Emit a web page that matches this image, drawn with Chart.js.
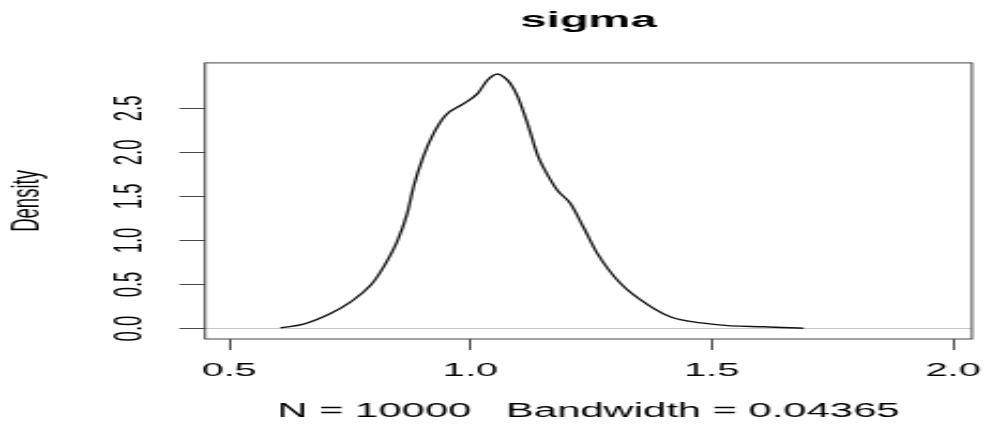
<!DOCTYPE html>
<html>
<head>
<meta charset="utf-8">
<title>sigma</title>
<script src="https://cdn.jsdelivr.net/npm/chart.js@4.4.1/dist/chart.umd.min.js"></script>
<style>
  html, body { margin: 0; padding: 0; background: #fff; overflow: hidden; }
  /* plot is drawn narrow and stretched sideways, like the original device output */
  #wrap { width: 460px; height: 428px; transform: scaleX(2.1413); transform-origin: 0 0; }
</style>
</head>
<body>
<div id="wrap"><canvas id="density" width="460" height="428"></canvas></div>
<script>
// kernel density estimate of sigma
const SIGMA_X = [0.606, 0.654, 0.710, 0.751, 0.793, 0.820, 0.849, 0.869, 0.882, 0.902,
                 0.923, 0.948, 0.985, 1.015, 1.035, 1.056, 1.068, 1.083, 1.098, 1.118,
                 1.139, 1.151, 1.180, 1.207, 1.234, 1.263, 1.311, 1.367, 1.415, 1.483,
                 1.539, 1.608, 1.690];
const DENSITY = [0.008, 0.05, 0.17, 0.30, 0.49, 0.70, 1.00, 1.31, 1.61, 1.95,
                 2.21, 2.42, 2.55, 2.67, 2.82, 2.89, 2.86, 2.78, 2.63, 2.33,
                 1.97, 1.83, 1.57, 1.42, 1.15, 0.85, 0.51, 0.27, 0.13, 0.06,
                 0.03, 0.02, 0.003];

const X_TICKS = [0.5, 1.0, 1.5, 2.0];
const Y_TICKS = [0.0, 0.5, 1.0, 1.5, 2.0, 2.5];
const X_LIMITS = [0.450, 2.039];
const Y_LIMITS = [-0.119, 3.016];

const MAIN = 'sigma';
const SUB = 'N = 10000   Bandwidth = 0.04365';
const YLAB = 'Density';

const FONT = "'Liberation Sans', Arial, sans-serif";

// frame around the plot region
const plotBox = {
  id: 'plotBox',
  afterDatasetsDraw(chart) {
    const {ctx, chartArea: a} = chart;
    ctx.save();
    ctx.strokeStyle = '#444';
    ctx.lineWidth = 1;
    ctx.strokeRect(a.left, a.top, a.right - a.left, a.bottom - a.top);
    ctx.restore();
  }
};

const points = SIGMA_X.map((x, i) => ({x: x, y: DENSITY[i]}));

new Chart(document.getElementById('density'), {
  type: 'line',
  data: {
    datasets: [{
      data: points,
      borderColor: '#111',
      borderWidth: 1.3,
      pointRadius: 0,
      fill: false,
      cubicInterpolationMode: 'monotone'
    }]
  },
  options: {
    responsive: false,
    animation: false,
    devicePixelRatio: 1,
    layout: { autoPadding: false, padding: { left: 0, right: 6.1, top: 0, bottom: 0 } },
    plugins: {
      legend: { display: false },
      tooltip: { enabled: false },
      title: {
        display: true,
        text: MAIN,
        fullSize: false,
        color: '#000',
        font: { family: FONT, size: 22, weight: 'bold' },
        padding: { top: 7.5, bottom: 29 }
      }
    },
    scales: {
      x: {
        type: 'linear',
        min: X_LIMITS[0],
        max: X_LIMITS[1],
        afterBuildTicks: s => { s.ticks = X_TICKS.map(v => ({value: v})); },
        afterFit: s => {
          s.height = 89;
          s.paddingLeft = 0;
          s.paddingRight = 0;
        },
        border: { display: false },
        grid: { drawOnChartArea: false, drawTicks: true, tickLength: 11, tickColor: '#444', lineWidth: 1 },
        ticks: {
          color: '#000',
          padding: 10,
          maxRotation: 0,
          font: { family: FONT, size: 18.5 },
          callback: v => Number(v).toFixed(1)
        },
        title: {
          display: true,
          text: SUB,
          color: '#000',
          font: { family: FONT, size: 19.5 },
          padding: { top: 0, bottom: 4.2 }
        }
      },
      y: {
        type: 'linear',
        min: Y_LIMITS[0],
        max: Y_LIMITS[1],
        afterBuildTicks: s => { s.ticks = Y_TICKS.map(v => ({value: v})); },
        afterFit: s => {
          s.width = 95.74;
          s.paddingTop = 0;
          s.paddingBottom = 0;
        },
        border: { display: false },
        grid: {
          drawOnChartArea: true,
          drawTicks: true,
          tickLength: 12,
          tickColor: '#444',
          lineWidth: 1,
          // only the zero line shows inside the plot
          color: c => (c.tick && c.tick.value === 0 ? '#c8c8c8' : 'rgba(0,0,0,0)')
        },
        ticks: {
          color: '#000',
          padding: 10,
          minRotation: 90,
          maxRotation: 90,
          crossAlign: 'center',
          font: { family: FONT, size: 18.5 },
          callback: v => Number(v).toFixed(1)
        },
        title: {
          display: true,
          text: YLAB,
          color: '#000',
          font: { family: FONT, size: 18.5 },
          padding: { top: 2.2, bottom: 0 }
        }
      }
    }
  },
  plugins: [plotBox]
});
</script>
</body>
</html>
